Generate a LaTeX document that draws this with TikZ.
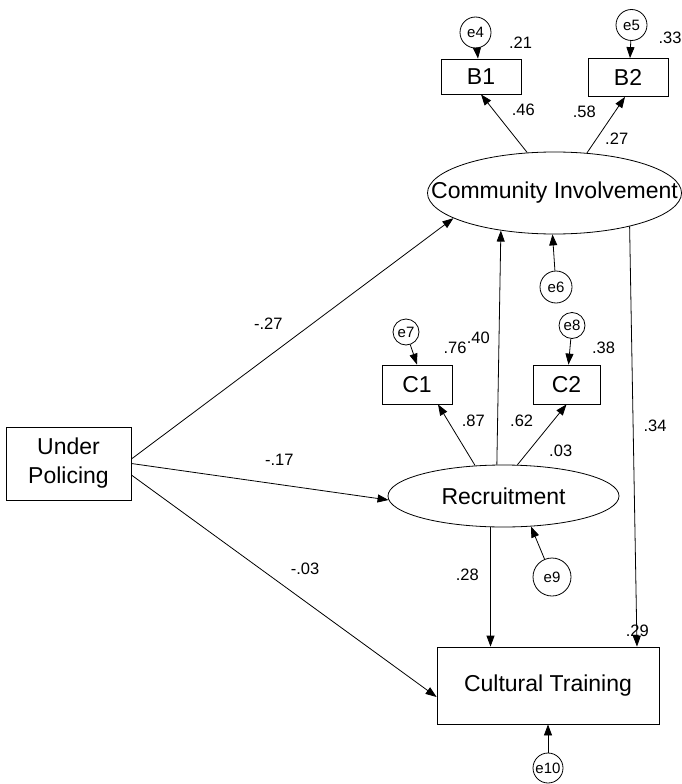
\documentclass[tikz,border=0pt]{standalone}
\usepackage{fontspec}
\setmainfont{Liberation Sans}
\usetikzlibrary{arrows.meta,shapes.geometric}
\begin{document}
\begin{tikzpicture}[x=1pt,y=-1pt,
  every node/.style={inner sep=0pt},
  box/.style={draw, line width=0.8pt, rectangle, font=\fontsize{23}{29}\selectfont},
  lat/.style={draw, ellipse, line width=0.8pt, font=\fontsize{23}{26}\selectfont},
  err/.style={draw, circle, line width=0.8pt, font=\fontsize{15}{18}\selectfont},
  lbl/.style={font=\fontsize{16.5}{19}\selectfont},
  arr/.style={-{Triangle[length=11pt,width=8pt]}, line width=0.8pt}]
\path[use as bounding box] (0,0) rectangle (682,784);
% main variables
\node[box, minimum width=125pt, minimum height=73pt, align=center] (UP) at (68.5,463.5) {Under\\Policing};
\node[lat, minimum width=254pt, minimum height=82pt] (CI) at (554.5,193) {\makebox[0pt]{Community Involvement}};
\node[lat, minimum width=231pt, minimum height=62pt] (REC) at (503.5,496) {\makebox[0pt]{Recruitment}};
\node[box, minimum width=222pt, minimum height=77pt] (CT) at (548,685.5) {Cultural Training};
\node[box, minimum width=80pt, minimum height=35pt] (B1) at (481,76.5) {B1};
\node[box, minimum width=80pt, minimum height=38pt] (B2) at (628,77.5) {B2};
\node[box, minimum width=70pt, minimum height=39pt] (C1) at (417,384.5) {C1};
\node[box, minimum width=67pt, minimum height=39pt] (C2) at (566.5,384.5) {C2};
% error terms
\node[err, minimum size=31pt] (e4) at (475.5,32.5) {e4};
\node[err, minimum size=31pt] (e5) at (631.5,25) {e5};
\node[err, minimum size=32pt] (e6) at (556,287) {e6};
\node[err, minimum size=26pt] (e7) at (406,332) {e7};
\node[err, minimum size=26pt] (e8) at (572,325.5) {e8};
\node[err, minimum size=38pt] (e9) at (552,577) {e9};
\node[err, minimum size=30pt] (e10) at (548,768) {e10};
% connectors
\draw[arr] (e4) -- ([xshift=-3pt]B1.north);
\draw[arr] (e5) -- ([xshift=2pt]B2.north);
\draw[arr] (CI.124.5) -- (B1.south);
\draw[arr] (CI.51) -- ([xshift=-3pt]B2.south);
\draw[arr] (e6) -- ([xshift=-2pt]CI.south);
\draw[arr] (REC.102) -- (CI.215.4);
\draw[arr] (e7) -- (C1.north);
\draw[arr] (e8) -- ([xshift=2pt]C2.north);
\draw[arr] (REC.133.5) -- ([xshift=21pt]C1.south);
\draw[arr] (REC.66) -- (C2.south);
\draw[arr] ([yshift=4.5pt]UP.east) -- (CI.194);
\draw[arr] (UP.east) -- (REC.182);
\draw[arr] ([yshift=-11.5pt]UP.east) -- ([yshift=-11.5pt]CT.west);
\draw[arr] ([xshift=-13pt]REC.south) -- ([xshift=-13pt]REC.south |- CT.north);
\draw[arr] (CI.336.4) -- ([xshift=89pt]CT.north);
\draw[arr] (e9) -- (REC.312);
\draw[arr] (e10) -- (CT.south);
% labels
\node[lbl] (l21) at (520.5,43) {.21};
\node[lbl] (l33) at (670,38) {.33};
\node[lbl] (l46) at (523.3,110) {.46};
\node[lbl] (l58) at (584.3,111.7) {.58};
\node[lbl] (l27) at (616.7,138.3) {.27};
\node[lbl] (lm27) at (268.3,324) {-.27};
\node[lbl] (lm17) at (279.3,460) {-.17};
\node[lbl] (lm03) at (305,569.3) {-.03};
\node[lbl] (l76) at (455,348) {.76};
\node[lbl] (l40) at (478.3,338) {.40};
\node[lbl] (l38) at (603.5,348.3) {.38};
\node[lbl] (l87) at (473.3,420.7) {.87};
\node[lbl] (l62) at (521.7,420.7) {.62};
\node[lbl] (l03) at (560.7,450.7) {.03};
\node[lbl] (l34) at (655,426) {.34};
\node[lbl] (l28) at (467.3,575) {.28};
\node[lbl] (l29) at (637.3,630.7) {.29};
\end{tikzpicture}
\end{document}
